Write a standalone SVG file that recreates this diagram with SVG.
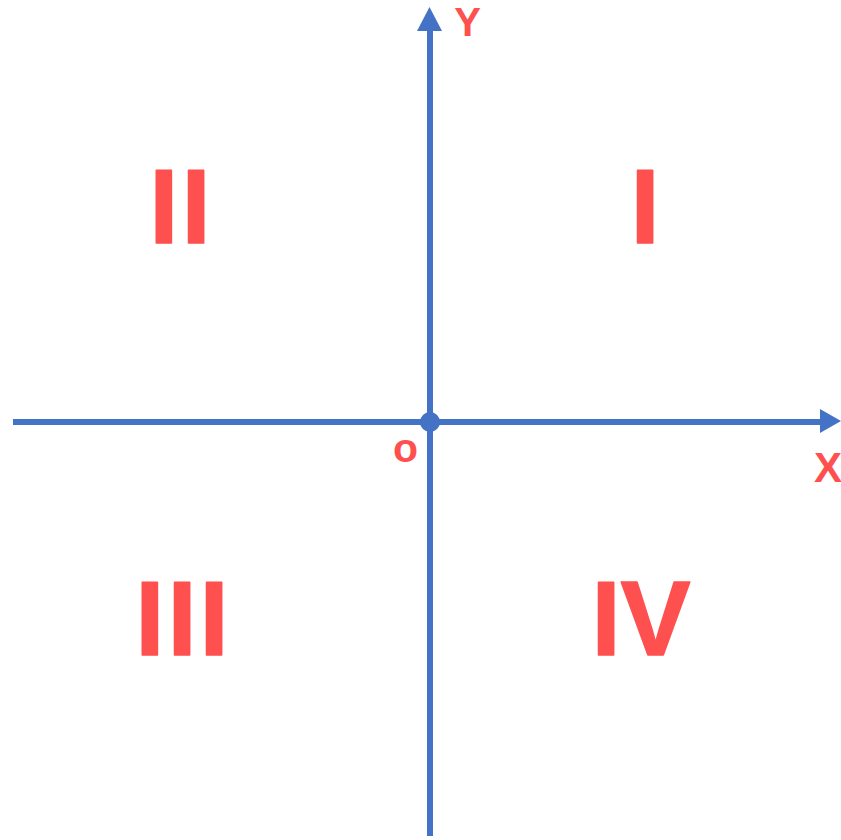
<svg xmlns="http://www.w3.org/2000/svg" width="841" height="840" viewBox="0 0 841 840">
<style>
.axis{stroke:#4472C4;stroke-width:6;fill:none}
.head{fill:#4472C4}
.q{font-family:'Liberation Sans',Arial,sans-serif;font-weight:700;font-size:105px;fill:#FF5050;text-anchor:middle;stroke:#FF5050;stroke-width:1.5;stroke-linejoin:round}
.lbl{font-family:'Liberation Sans',Arial,sans-serif;font-weight:700;fill:#FF5050}
</style>
<rect width="841" height="840" fill="#ffffff"/>
<g id="connectors">
<line class="axis" x1="13" y1="422" x2="824" y2="422"/>
<polygon class="head" points="841,421 820,409 820,433"/>
<line class="axis" x1="430" y1="836" x2="430" y2="27"/>
<polygon class="head" points="429.5,7 417,31 442,31"/>
</g>
<g id="origin">
<circle cx="430" cy="422" r="10" fill="#4472C4"/>
<text class="lbl" x="405.5" y="462" font-size="41" text-anchor="middle">o</text>
</g>
<g id="y-label"><text class="lbl" x="467.5" y="36" font-size="40" text-anchor="middle">Y</text></g>
<g id="x-label"><text class="lbl" x="828" y="482" font-size="42" text-anchor="middle">X</text></g>
<g id="quadrant-I"><text class="q" x="645" y="243">I</text></g>
<g id="quadrant-II"><text class="q" x="181.5" y="243" letter-spacing="3">II</text></g>
<g id="quadrant-III"><text class="q" x="183.5" y="655" letter-spacing="3">III</text></g>
<g id="quadrant-IV"><text class="q" x="641" y="655">IV</text></g>
</svg>
